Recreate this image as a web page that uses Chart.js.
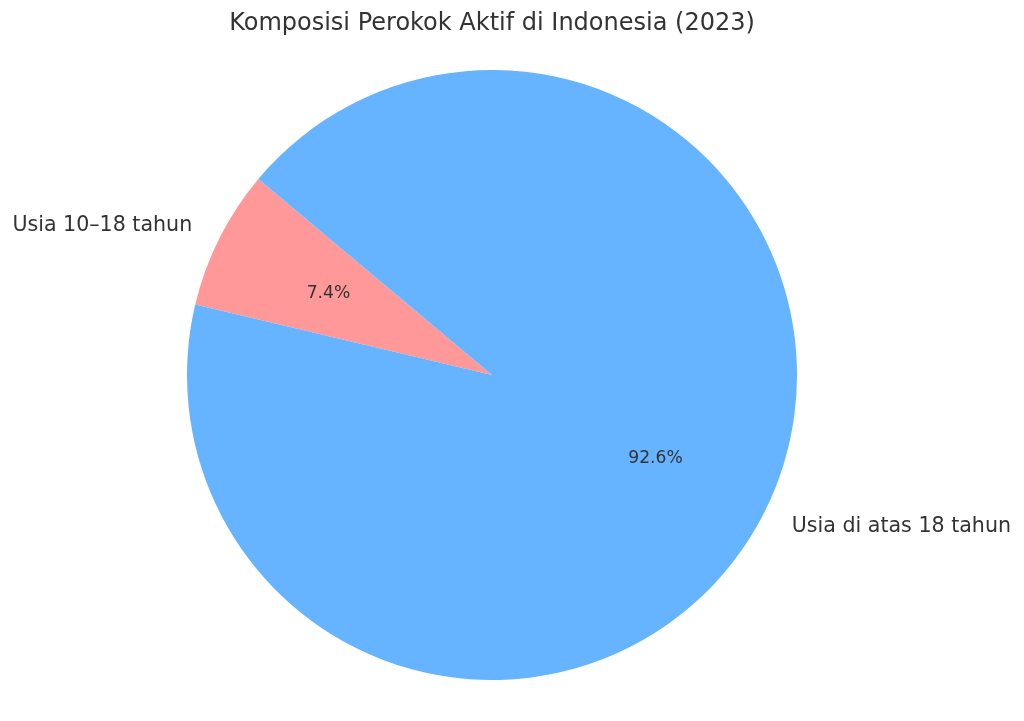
<!DOCTYPE html>
<html>
<head>
<meta charset="utf-8">
<script src="https://cdn.jsdelivr.net/npm/chart.js@4/dist/chart.umd.min.js"></script>
<style>
html,body{margin:0;padding:0;background:#fff;}
#wrap{width:1024px;height:721px;position:relative;}
</style>
</head>
<body>
<div id="wrap"><canvas id="c" width="1024" height="721"></canvas></div>
<script>
const titleText = "Komposisi Perokok Aktif di Indonesia (2023)";
const categories = ["Usia 10–18 tahun", "Usia di atas 18 tahun"];
const values = [7.4, 92.6];
const colors = ["#ff9999", "#66b3ff"];

const FONT = "'DejaVu Sans', sans-serif";
const TEXT_COLOR = "#333333";

const labelPlugin = {
  id: 'mplLabels',
  afterDraw(chart) {
    const ctx = chart.ctx;
    const meta = chart.getDatasetMeta(0);
    const total = values.reduce((a, b) => a + b, 0);
    ctx.save();
    ctx.fillStyle = TEXT_COLOR;
    ctx.textBaseline = 'middle';
    meta.data.forEach((arc, i) => {
      const p = arc.getProps(['x', 'y', 'startAngle', 'endAngle', 'outerRadius'], true);
      const mid = (p.startAngle + p.endAngle) / 2;
      const c = Math.cos(mid), s = Math.sin(mid);
      // outer category label
      ctx.font = "20.6px " + FONT;
      ctx.textAlign = c >= 0 ? 'left' : 'right';
      ctx.fillText(categories[i], p.x + 1.1 * p.outerRadius * c, p.y + 1.1 * p.outerRadius * s + 1);
      // percentage
      ctx.font = "17.2px " + FONT;
      ctx.textAlign = 'center';
      const pct = (values[i] / total * 100).toFixed(1) + '%';
      ctx.fillText(pct, p.x + 0.6 * p.outerRadius * c, p.y + 0.6 * p.outerRadius * s + 1);
    });
    // title
    const cx = (chart.chartArea.left + chart.chartArea.right) / 2;
    ctx.font = "24px " + FONT;
    ctx.textAlign = 'center';
    ctx.fillText(titleText, cx, 24);
    ctx.restore();
  }
};

new Chart(document.getElementById('c'), {
  type: 'pie',
  data: {
    labels: categories,
    datasets: [{
      data: values,
      backgroundColor: colors,
      borderWidth: 0,
      hoverOffset: 0,
      offset: 0
    }]
  },
  options: {
    responsive: false,
    animation: false,
    rotation: -76.64,
    layout: { padding: { left: 187, right: 227, top: 70, bottom: 41 } },
    plugins: {
      legend: { display: false },
      title: { display: false },
      tooltip: { enabled: false }
    }
  },
  plugins: [labelPlugin]
});
</script>
</body>
</html>
